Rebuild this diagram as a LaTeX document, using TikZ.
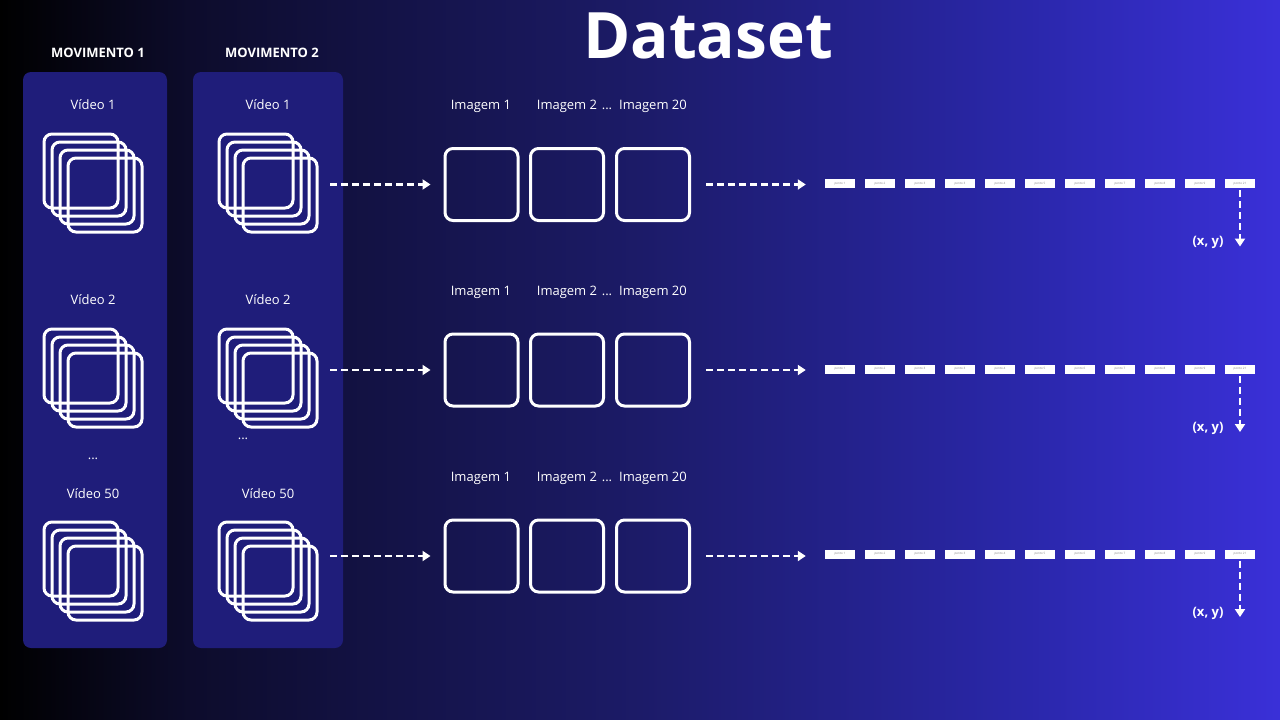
\documentclass[tikz,border=0pt]{standalone}
\usepackage{fontspec}
\setmainfont{Open Sans}
\usetikzlibrary{arrows.meta}
\definecolor{bgA}{RGB}{0,0,0}
\definecolor{bgB}{RGB}{13,12,44}
\definecolor{bgC}{RGB}{28,27,104}
\definecolor{bgD}{RGB}{42,39,170}
\definecolor{bgE}{RGB}{58,48,216}
\definecolor{panelc}{RGB}{31,29,122}
\pgfdeclarehorizontalshading{bgshade}{100bp}{color(0bp)=(bgA); color(25bp)=(bgA); color(32.5bp)=(bgB); color(50bp)=(bgC); color(65bp)=(bgD); color(75bp)=(bgE); color(100bp)=(bgE)}
\tikzset{
  panel/.style={fill=panelc, draw=none, rounded corners=8pt, inner sep=0pt},
  frame/.style={draw=white, line width=3pt, rounded corners=8pt, minimum size=74pt, inner sep=0pt},
  stackbox/.style={minimum size=100pt, inner sep=0pt, draw=none},
  imgbox/.style={draw=white, line width=3pt, rounded corners=8pt, minimum width=73pt, minimum height=72pt, inner sep=0pt},
  ptbox/.style={fill=white, minimum width=30pt, minimum height=9pt, inner sep=0pt, text=gray, font=\fontsize{3}{3}\selectfont},
  lbl/.style={text=white, font=\fontsize{13}{15}\selectfont, text height=10pt, text depth=3pt},
  head/.style={text=white, font=\bfseries\fontsize{13}{15}\selectfont},
  dasharrow/.style={draw=white, line width=2.5pt, dash pattern=on 7pt off 4pt, -{Triangle[width=10pt,length=8pt]}},
}
\begin{document}
\begin{tikzpicture}[x=1pt,y=-1pt]
\useasboundingbox (0,0) rectangle (1280,720);
\shade[shading=bgshade] (0,0) rectangle (1280,720);

% title
\node[text=white, font=\bfseries\fontsize{64}{70}\selectfont] (title) at (708,36) {Dataset};

% panels
\node[panel, minimum width=144pt, minimum height=576pt] (p1) at (95,360) {};
\node[panel, minimum width=150pt, minimum height=576pt] (p2) at (268,360) {};
\node[head] (m1) at (98,53) {MOVIMENTO 1};
\node[head] (m2) at (272,53) {MOVIMENTO 2};

% video labels
\node[lbl] (v11) at (93,106) {Vídeo 1};
\node[lbl] (v12) at (93,301) {Vídeo 2};
\node[lbl] (dots1) at (93,456) {...};
\node[lbl] (v13) at (93,495) {Vídeo 50};
\node[lbl] (v21) at (268,106) {Vídeo 1};
\node[lbl] (v22) at (268,301) {Vídeo 2};
\node[lbl] (dots2) at (243,436) {...};
\node[lbl] (v23) at (268,495) {Vídeo 50};

% stacks
\foreach \p/\x in {1/93,2/268}{
  \foreach \r/\y in {1/183,2/378,3/571}{
    \node[stackbox] (st\p\r) at (\x,\y) {};
    \foreach \k in {0,1,2,3}{
      \node[frame] (f\p\r\k) at (\x-12+8*\k,\y-12+8*\k) {};
    }
  }
}

% image rows
\foreach \r/\y/\ly in {1/184.5/106,2/370/292,3/556/478}{
  \node[imgbox] (i\r1) at (481.5,\y) {};
  \node[imgbox] (i\r2) at (567,\y) {};
  \node[imgbox] (i\r3) at (653,\y) {};
  \node[lbl] (l\r1) at (481,\ly) {Imagem 1};
  \node[lbl] (l\r2) at (567,\ly) {Imagem 2};
  \node[lbl] (l\r d) at (607,\ly) {...};
  \node[lbl] (l\r3) at (653,\ly) {Imagem 20};
  \draw[dasharrow, shorten <=12pt, shorten >=13pt] (st2\r.east |- i\r1.west) -- (i\r1.west);
}

% points rows
\foreach \r/\y in {1/183.5,2/369,3/554}{
  \foreach \n/\t in {0/1,1/2,2/3,3/3,4/4,5/5,6/6,7/7,8/8,9/9,10/21}{
    \node[ptbox] (q\r\n) at (840+40*\n,\y) {ponto \t};
  }
  \draw[dasharrow, shorten <=15pt, shorten >=19pt] (i\r3.east) -- (q\r0.west |- i\r3.east);
  \coordinate (d\r) at (1240,\y+63);
  \draw[dasharrow, shorten <=2pt] (q\r10.south) -- (d\r);
  \node[text=white, font=\bfseries\fontsize{13}{15}\selectfont] (xy\r) at (1208,\y+59) {(x, y)};
}
\end{tikzpicture}
\end{document}
